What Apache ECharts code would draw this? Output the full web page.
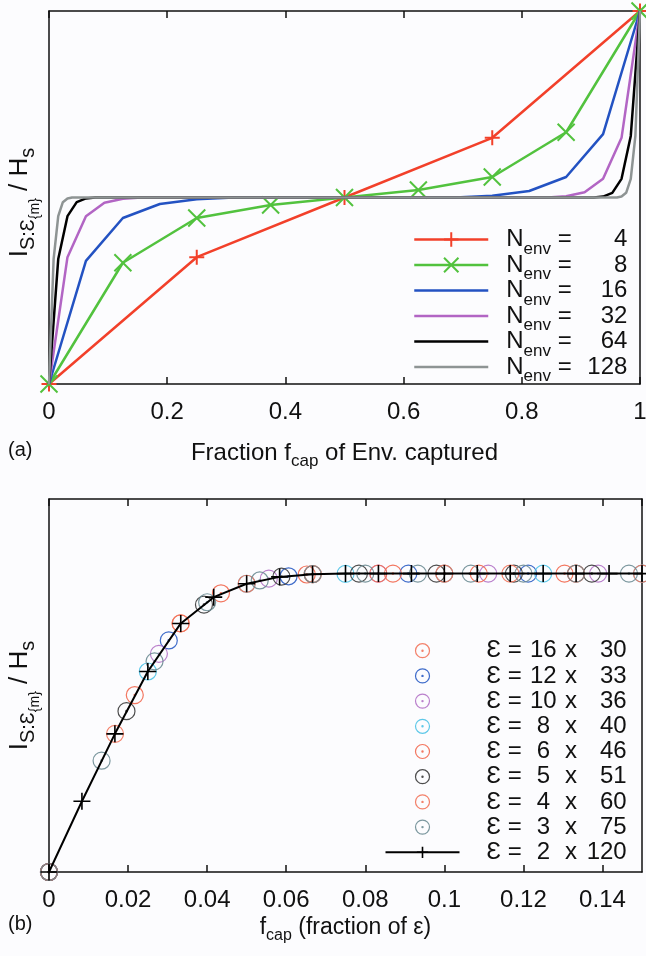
<!DOCTYPE html>
<html><head><meta charset="utf-8">
<script src="https://cdn.jsdelivr.net/npm/echarts@6/dist/echarts.min.js"></script>
<style>html,body{margin:0;padding:0;background:#fcfcfe}#c{width:646px;height:956px}</style>
</head><body><div id="c"></div>
<script>
const FONT = 'Liberation Sans';
// ---------- Panel (a) ----------
const aTickValues = [0, 0.2, 0.4, 0.6, 0.8, 1];
const aTickLabels = ['0', '0.2', '0.4', '0.6', '0.8', '1'];
const env4_f = [0, 0.25, 0.5, 0.75, 1];
const env4_I = [0, 0.68, 1, 1.32, 2];
const env8_f = [0, 0.125, 0.25, 0.375, 0.5, 0.625, 0.75, 0.875, 1];
const env8_I = [0, 0.65, 0.89, 0.96, 1, 1.04, 1.11, 1.35, 2];
const env16_f = [0, 0.0625, 0.125, 0.1875, 0.25, 0.3125, 0.6875, 0.75, 0.8125, 0.875, 0.9375, 1];
const env16_I = [0, 0.66, 0.89, 0.965, 0.99, 1, 1, 1.01, 1.035, 1.11, 1.34, 2];
const env32_f = [0, 0.03125, 0.0625, 0.09375, 0.125, 0.15625, 0.84375, 0.875, 0.90625, 0.9375, 0.96875, 1];
const env32_I = [0, 0.68, 0.9, 0.972, 0.993, 1, 1, 1.007, 1.028, 1.1, 1.32, 2];
const env64_f = [0, 0.015625, 0.03125, 0.046875, 0.0625, 0.078125, 0.921875, 0.9375, 0.953125, 0.96875, 0.984375, 1];
const env64_I = [0, 0.67, 0.9, 0.975, 0.995, 1, 1, 1.005, 1.025, 1.1, 1.33, 2];
const env128_f = [0, 0.0078125, 0.015625, 0.0234375, 0.03125, 0.0390625, 0.9609375, 0.96875, 0.9765625, 0.984375, 0.9921875, 1];
const env128_I = [0, 0.67, 0.9, 0.975, 0.995, 1, 1, 1.005, 1.025, 1.1, 1.33, 2];
const envNames = ['4', '8', '16', '32', '64', '128'];

// ---------- Panel (b) ----------
const bTickValues = [0, 0.02, 0.04, 0.06, 0.08, 0.1, 0.12, 0.14];
const bTickLabels = ['0', '0.02', '0.04', '0.06', '0.08', '0.1', '0.12', '0.14'];
const e16x30_f = [0, 0.0333, 0.0667, 0.1, 0.1333];
const e16x30_I = [0, 0.833, 0.998, 1, 1];
const e12x33_f = [0, 0.0303, 0.0606, 0.0909, 0.1212];
const e12x33_I = [0, 0.776, 0.991, 1, 1];
const e10x36_f = [0, 0.0278, 0.0556, 0.0833, 0.1111, 0.1389];
const e10x36_I = [0, 0.731, 0.983, 1, 1, 1];
const e8x40_f = [0, 0.025, 0.05, 0.075, 0.1, 0.125, 0.15];
const e8x40_I = [0, 0.672, 0.966, 0.999, 1, 1, 1];
const e6x46_f = [0, 0.0217, 0.0435, 0.0652, 0.087, 0.1087, 0.1304];
const e6x46_I = [0, 0.593, 0.934, 0.997, 1, 1, 1];
const e5x51_f = [0, 0.0196, 0.0392, 0.0588, 0.0784, 0.098, 0.1176, 0.1373];
const e5x51_I = [0, 0.539, 0.896, 0.99, 1, 1, 1, 1];
const e4x60_f = [0, 0.0167, 0.0333, 0.05, 0.0667, 0.0833, 0.1, 0.1167, 0.1333, 0.15];
const e4x60_I = [0, 0.463, 0.833, 0.966, 0.998, 1, 1, 1, 1, 1];
const e3x75_f = [0, 0.0133, 0.0267, 0.04, 0.0533, 0.0667, 0.08, 0.0933, 0.1067, 0.12, 0.1333, 0.1467];
const e3x75_I = [0, 0.373, 0.706, 0.904, 0.977, 0.998, 1, 1, 1, 1, 1, 1];
const e2x120_f = [0, 0.00833, 0.01667, 0.025, 0.03333, 0.04167, 0.05, 0.05833, 0.06667, 0.075, 0.08333, 0.09167, 0.1, 0.10833, 0.11667, 0.125, 0.13333, 0.14167, 0.15];
const e2x120_I = [0, 0.237, 0.463, 0.672, 0.833, 0.921, 0.966, 0.989, 0.998, 1, 1, 1, 1, 1, 1, 1, 1, 1, 1];
const epsA = ['16', '12', '10', '8', '6', '5', '4', '3', '2'];
const epsB = ['30', '33', '36', '40', '46', '51', '60', '75', '120'];

const PLUS = 'path://M0,-8L0,8M-8,0L8,0';
const CROSS = 'path://M-8,-8L8,8M-8,8L8,-8';
const RING = 'path://M-8,0A8,8,0,1,0,8,0A8,8,0,1,0,-8,0ZM-0.7,0A0.7,0.7,0,1,0,0.7,0A0.7,0.7,0,1,0,-0.7,0Z';

function pairs(xs, ys) { return xs.map((x, i) => [x, ys[i]]); }
function tickFmt(vals, labs) {
  return v => { const i = vals.findIndex(t => Math.abs(t - v) < 1e-9); return i < 0 ? '' : labs[i]; };
}

const chart = echarts.init(document.getElementById('c'), null, {renderer: 'canvas'});
const AX = '#111';
const lineAxis = (g, pos) => ({
  gridIndex: g, type: 'value', position: pos,
  axisLine: {show: true, onZero: false, lineStyle: {color: AX, width: 1.5}},
  axisTick: {show: false}, axisLabel: {show: false}, splitLine: {show: false}
});

const envColors = ['#f2402a', '#52c23e', '#2352c2', '#b265c4', '#000000', '#8e9494'];
const envF = [env4_f, env8_f, env16_f, env32_f, env64_f, env128_f];
const envI = [env4_I, env8_I, env16_I, env32_I, env64_I, env128_I];
const envSym = [PLUS, CROSS, 'none', 'none', 'none', 'none'];
const envSymSize = [15, 17, 0, 0, 0, 0];

const epsColors = ['#f2735a', '#2a5cc4', '#b272c6', '#4cc2e6', '#f2674e', '#3a3a3a', '#f2735a', '#6d8c94', '#000000'];
const epsF = [e16x30_f, e12x33_f, e10x36_f, e8x40_f, e6x46_f, e5x51_f, e4x60_f, e3x75_f, e2x120_f];
const epsI = [e16x30_I, e12x33_I, e10x36_I, e8x40_I, e6x46_I, e5x51_I, e4x60_I, e3x75_I, e2x120_I];

const series = [];
envNames.forEach((n, k) => {
  series.push({
    type: 'line', name: 'N' + n, xAxisIndex: 0, yAxisIndex: 0,
    data: pairs(envF[k], envI[k]),
    symbol: envSym[k], symbolSize: envSymSize[k], showSymbol: envSym[k] !== 'none',
    lineStyle: {color: envColors[k], width: 2.5},
    itemStyle: {color: envColors[k], borderColor: envColors[k], borderWidth: 2},
    silent: true, clip: false, z: 2 + k
  });
});
epsA.forEach((a, k) => {
  const isLine = k === epsA.length - 1;
  series.push(isLine ? {
    type: 'line', name: 'E' + a, xAxisIndex: 2, yAxisIndex: 2,
    data: pairs(epsF[k], epsI[k]),
    symbol: PLUS, symbolSize: 17, showSymbol: true,
    lineStyle: {color: '#000', width: 2},
    itemStyle: {color: '#000', borderColor: '#000', borderWidth: 1.6},
    silent: true, clip: false, z: 20
  } : {
    type: 'scatter', name: 'E' + a, xAxisIndex: 2, yAxisIndex: 2,
    data: pairs(epsF[k], epsI[k]),
    symbol: RING, symbolSize: 17, symbolKeepAspect: true,
    itemStyle: {color: 'rgba(0,0,0,0)', borderColor: epsColors[k], borderWidth: 1.2, opacity: 0.9},
    silent: true, clip: false, z: 5 + k
  });
});

const subRichA = {
  a: {fontSize: 24, fontFamily: FONT, color: AX},
  s: {fontSize: 17, fontFamily: FONT, color: AX, padding: [17, 0, 0, 0]}
};
const subRichB = {
  a: {fontSize: 23, fontFamily: FONT, color: AX},
  s: {fontSize: 16, fontFamily: FONT, color: AX, padding: [16, 0, 0, 0]}
};
const yRich = {
  i: {fontSize: 26, fontFamily: FONT, color: AX, padding: [0, 0, 30, 0]},
  s: {fontSize: 20, fontFamily: FONT, color: AX, padding: [0, 0, 13, 0]},
  d: {fontSize: 26, fontFamily: FONT, color: AX, padding: [0, 0, 30, 0]},
  t: {fontSize: 20, fontFamily: FONT, color: AX, padding: [0, 0, 13, 0]}
};
const yName = '{i|I}{s|S:Ɛ}{m}{d| / H}{t|s}';

const option = {
  backgroundColor: '#fcfcfe',
  animation: false,
  textStyle: {fontFamily: FONT},
  grid: [
    {left: 49, right: 6, top: 11, height: 373, containLabel: false, outerBoundsMode: 'none'},
    {left: 49, right: 4, top: 499, height: 373, containLabel: false, outerBoundsMode: 'none'}
  ],
  xAxis: [
    {gridIndex: 0, type: 'value', min: 0, max: 1, interval: 0.2, position: 'bottom',
     axisLine: {show: true, onZero: false, lineStyle: {color: AX, width: 1.5}},
     axisTick: {show: true, inside: true, length: 7, lineStyle: {color: AX, width: 1.5}},
     axisLabel: {fontSize: 24, color: AX, fontFamily: FONT, margin: 16, formatter: tickFmt(aTickValues, aTickLabels)},
     splitLine: {show: false},
     name: '{a|Fraction f}{s|cap}{a| of Env. captured}', nameLocation: 'middle', nameGap: 52,
     nameTextStyle: {rich: subRichA}},
    {gridIndex: 0, type: 'value', min: 0, max: 1, interval: 0.2, position: 'top',
     axisLine: {show: true, onZero: false, lineStyle: {color: AX, width: 1.5}},
     axisTick: {show: true, inside: true, length: 7, lineStyle: {color: AX, width: 1.5}},
     axisLabel: {show: false}, splitLine: {show: false}},
    {gridIndex: 1, type: 'value', min: 0, max: 0.15, interval: 0.02, position: 'bottom',
     axisLine: {show: true, onZero: false, lineStyle: {color: AX, width: 1.5}},
     axisTick: {show: true, inside: true, length: 7, lineStyle: {color: AX, width: 1.5}},
     axisLabel: {fontSize: 24, color: AX, fontFamily: FONT, margin: 16, showMaxLabel: false, formatter: tickFmt(bTickValues, bTickLabels)},
     splitLine: {show: false},
     name: '{a|f}{s|cap}{a| (fraction of ε)}', nameLocation: 'middle', nameGap: 40,
     nameTextStyle: {rich: subRichB}},
    {gridIndex: 1, type: 'value', min: 0, max: 0.15, interval: 0.02, position: 'top',
     axisLine: {show: true, onZero: false, lineStyle: {color: AX, width: 1.5}},
     axisTick: {show: true, inside: true, length: 7, lineStyle: {color: AX, width: 1.5}},
     axisLabel: {show: false}, splitLine: {show: false}}
  ],
  yAxis: [
    Object.assign(lineAxis(0, 'left'), {min: 0, max: 2, name: yName, nameLocation: 'middle', nameRotate: 90, nameGap: -14,
      nameTextStyle: {fontSize: 14, fontFamily: FONT, color: AX, rich: yRich, padding: [0, 10, 0, 0]}}),
    Object.assign(lineAxis(0, 'right'), {min: 0, max: 2}),
    Object.assign(lineAxis(1, 'left'), {min: 0, max: 1.25, name: yName, nameLocation: 'middle', nameRotate: 90, nameGap: -14,
      nameTextStyle: {fontSize: 14, fontFamily: FONT, color: AX, rich: yRich, padding: [0, 20, 0, 0]}}),
    Object.assign(lineAxis(1, 'right'), {min: 0, max: 1.25})
  ],
  legend: [
    {
      orient: 'vertical', left: 413, top: 221.5, padding: 0, itemGap: -10.5,
      itemWidth: 74, itemHeight: 18, selectedMode: false,
      lineStyle: {width: 2.5},
      data: envNames.map((n, k) => ({
        name: 'N' + n,
        itemStyle: k < 2 ? {color: envColors[k], borderColor: envColors[k], borderWidth: 2} : {color: 'rgba(0,0,0,0)', borderWidth: 0}
      })),
      formatter: name => '{n|N}{s|env}{q| = }{v|' + name.slice(1) + '}',
      textStyle: {rich: {
        n: {fontSize: 24, fontFamily: FONT, color: AX, lineHeight: 25, padding: [0, 0, 0, 13]},
        s: {fontSize: 17, fontFamily: FONT, color: AX, lineHeight: 25, padding: [19, 0, 0, 0]},
        q: {fontSize: 24, fontFamily: FONT, color: AX, lineHeight: 25},
        v: {fontSize: 24, fontFamily: FONT, color: AX, lineHeight: 25, width: 49, align: 'right'}
      }}
    },
    {
      orient: 'vertical', left: 384.5, top: 638.7, padding: 0, itemGap: 1.2,
      itemWidth: 74, itemHeight: 14, selectedMode: false,
      lineStyle: {width: 2},
      itemStyle: {borderWidth: 1.2},
      data: epsA.map((a, k) => ({
        name: 'E' + a,
        itemStyle: k === epsA.length - 1 ? {color: '#000', borderColor: '#000', borderWidth: 1.6} : {color: 'rgba(0,0,0,0)', borderColor: epsColors[k], borderWidth: 1.2}
      })),
      formatter: name => {
        const k = epsA.indexOf(name.slice(1));
        return '{e|Ɛ}{q| = }{a|' + epsA[k] + '}{x| x }{b|' + epsB[k] + '}';
      },
      textStyle: {rich: {
        e: {fontSize: 24, fontFamily: FONT, color: AX, lineHeight: 25, padding: [0, 0, 0, 22]},
        q: {fontSize: 24, fontFamily: FONT, color: AX, lineHeight: 25},
        a: {fontSize: 24, fontFamily: FONT, color: AX, lineHeight: 25, width: 30, align: 'right'},
        x: {fontSize: 24, fontFamily: FONT, color: AX, lineHeight: 25},
        b: {fontSize: 24, fontFamily: FONT, color: AX, lineHeight: 25, width: 43, align: 'right'}
      }}
    }
  ],
  graphic: [
    {type: 'text', left: 8, top: 440, style: {text: '(a)', fontSize: 20, fontFamily: FONT, fill: AX}},
    {type: 'text', left: 8, top: 914, style: {text: '(b)', fontSize: 20, fontFamily: FONT, fill: AX}}
  ],
  series: series
};
chart.setOption(option);
</script>
</body></html>
